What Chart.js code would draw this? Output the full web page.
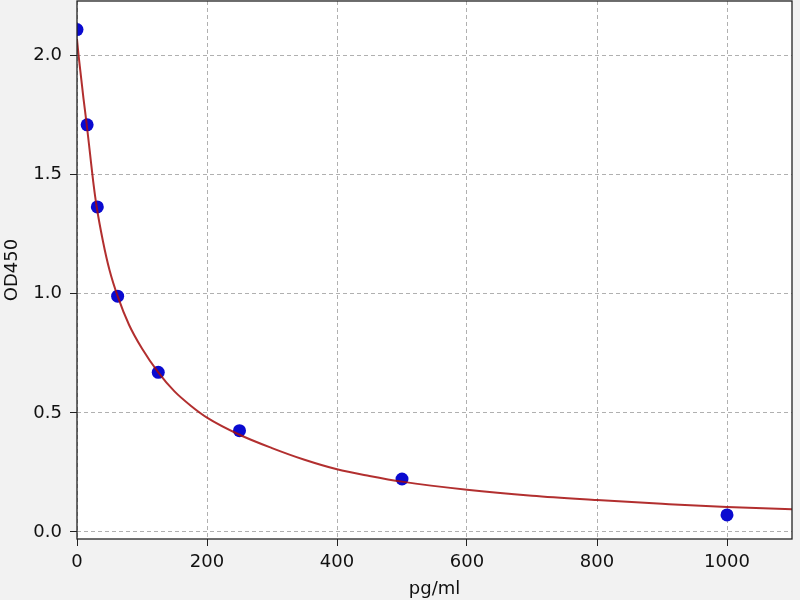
<!DOCTYPE html>
<html>
<head>
<meta charset="utf-8">
<script src="https://cdn.jsdelivr.net/npm/chart.js@4"></script>
<style>
  body { margin: 0; background: #f2f2f2; }
  #wrap { width: 800px; height: 600px; }
</style>
</head>
<body>
<div id="wrap"><canvas id="chart" width="800" height="600"></canvas></div>
<script>
// standards (measured)
const concentration = [0, 15.6, 31.25, 62.5, 125, 250, 500, 1000];
const od450 = [2.11, 1.71, 1.365, 0.99, 0.67, 0.425, 0.222, 0.071];

// fitted curve
const curveX = [0, 2.5, 5, 10, 15, 20, 25, 30, 40, 50, 62.5, 80, 100, 125, 150, 175, 200,
  250, 300, 350, 400, 450, 500, 600, 700, 800, 900, 1000, 1100];
const curveY = [2.07, 2.0, 1.94, 1.82, 1.71, 1.59, 1.47, 1.37, 1.22, 1.10, 0.99, 0.87, 0.77,
  0.67, 0.59, 0.53, 0.48, 0.408, 0.352, 0.303, 0.263, 0.235, 0.211, 0.177, 0.152, 0.134,
  0.118, 0.104, 0.095];

const xTicks = [0, 200, 400, 600, 800, 1000];
const yTicks = [0, 0.5, 1.0, 1.5, 2.0];

const textColor = "#111";
const font = { family: "DejaVu Sans", size: 18 };

// grey page, white plot area, black frame
const frame = {
  id: "frame",
  beforeDraw(chart) {
    const { ctx, chartArea: a } = chart;
    ctx.save();
    ctx.fillStyle = "#f2f2f2";
    ctx.fillRect(0, 0, chart.width, chart.height);
    ctx.fillStyle = "#fff";
    ctx.fillRect(a.left, a.top, a.right - a.left, a.bottom - a.top);
    ctx.restore();
  },
  afterDraw(chart) {
    const { ctx, chartArea: a } = chart;
    ctx.save();
    ctx.strokeStyle = "#222";
    ctx.lineWidth = 1.3;
    ctx.strokeRect(a.left, a.top, a.right - a.left, a.bottom - a.top);
    ctx.restore();
  }
};

new Chart(document.getElementById("chart"), {
  type: "scatter",
  data: {
    datasets: [
      {
        label: "fit",
        data: curveX.map((x, i) => ({ x, y: curveY[i] })),
        showLine: true,
        borderColor: "rgba(165, 10, 10, 0.85)",
        borderWidth: 2,
        pointRadius: 0,
        cubicInterpolationMode: "monotone"
      },
      {
        label: "standards",
        data: concentration.map((x, i) => ({ x, y: od450[i] })),
        backgroundColor: "#0a0ad0",
        borderWidth: 0,
        pointRadius: 6.5
      }
    ]
  },
  options: {
    responsive: false,
    animation: false,
    layout: { autoPadding: false, padding: { top: 1, right: 8, left: 0, bottom: 0 } },
    plugins: { legend: { display: false }, tooltip: { enabled: false } },
    scales: {
      x: {
        type: "linear",
        min: 0,
        max: 1100,
        afterBuildTicks: s => { s.ticks = xTicks.map(v => ({ value: v })); },
        afterFit: s => { s.height = 61; s.paddingLeft = 0; s.paddingRight = 0; },
        ticks: { color: textColor, font, padding: 6, callback: v => String(v) },
        grid: { color: "#b0b0b0", tickColor: "#222", tickLength: 7, lineWidth: 1 },
        border: { display: false, dash: [4, 3] },
        title: { display: true, text: "pg/ml", color: textColor, font, padding: { top: 0, bottom: 0 } }
      },
      y: {
        type: "linear",
        min: -0.03,
        max: 2.23,
        afterBuildTicks: s => { s.ticks = yTicks.map(v => ({ value: v })); },
        afterFit: s => { s.width = 77; s.paddingTop = 0; s.paddingBottom = 0; },
        ticks: { color: textColor, font, padding: 8, callback: v => v.toFixed(1) },
        grid: { color: "#b0b0b0", tickColor: "#222", tickLength: 7, lineWidth: 1 },
        border: { display: false, dash: [4, 3] },
        title: { display: true, text: "OD450", color: textColor, font, padding: { top: 2, bottom: 0 } }
      }
    }
  },
  plugins: [frame]
});
</script>
</body>
</html>
